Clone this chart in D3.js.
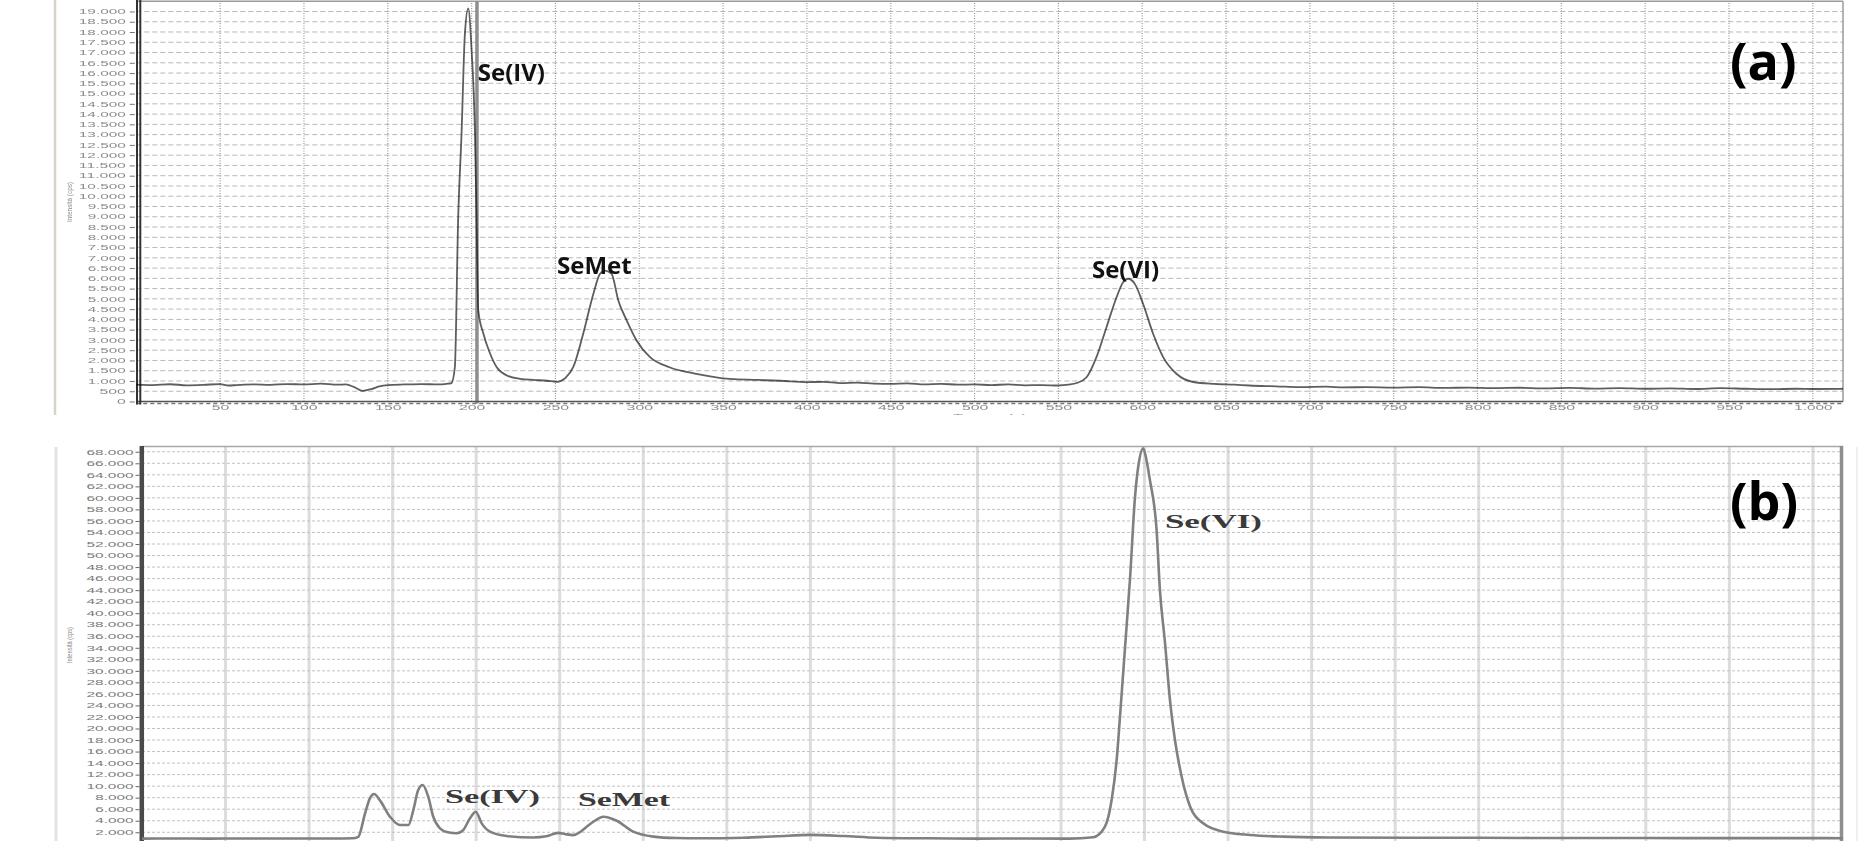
<!DOCTYPE html>
<html><head><meta charset="utf-8">
<script src="https://cdn.jsdelivr.net/npm/d3@7"></script>
<style>html,body{margin:0;padding:0;background:#fff;} svg{display:block}</style>
</head><body>
<svg id="chart" width="1871" height="841"></svg>
<script>
// ---------- DATA ----------
// Panel (a): time (s) and intensity (cps)
const timeA = [0,10,20,30,40,50,55,60,70,80,90,100,110,120,125,130,135,140,145,150,160,170,180,185,188,190,192,194,196,198,200,202,203,204,207,211,215,221,229,237,245,251,256,260.6,266.6,272.6,276.6,279.5,283.5,287.5,292.5,298.4,306.4,318,334,354,370,384,400,410,420,430,440,450,460,470,480,490,500,510,520,530,540,550,556,561,566.8,572.7,578.7,584.7,588.6,591.6,595.6,600.5,606.5,612.5,620.4,630.4,643,655,664,680,694,710,720,734,750,765,780,795,810,825,840,855,870,885,900,915,930,945,960,975,990,1000,1018];
const intensityA = [820,800,840,790,810,850,780,800,830,810,850,830,870,820,830,700,520,600,740,800,830,850,830,860,900,1660,8960,13050,17920,19150,17100,13050,8730,4430,3310,2340,1670,1270,1100,1050,1010,960,1150,1670,3310,5240,6220,6380,6220,4920,3950,2970,2160,1670,1350,1100,1050,1010,940,960,900,920,870,860,880,830,860,820,830,800,830,790,800,780,820,900,1180,2160,3620,5080,5810,5980,5730,4760,3300,2160,1350,950,860,820,780,740,700,720,690,700,680,700,660,680,650,670,640,660,630,650,620,640,610,650,620,600,620,610,620];
// Panel (b)
const timeB = [0,20,40,60,80,100,120,126,129.4,133.5,136.4,138.9,142.4,148.4,154.4,159.4,162.4,165.3,168,171.3,174.3,178.3,183,188.3,192,196.3,199.7,203.3,208.3,218.3,234.2,242,249.1,253,258.1,262,266.1,271,276.1,284.1,294,306,320,334,360,380,400,420,440,470,500,530,555,569.3,576.3,580.3,583.3,585.3,588.3,591.3,594.3,596.8,599.2,601.2,603.2,607.2,609.2,612.2,615.2,618.2,622.2,627.3,635.1,647.1,663.1,683,710,760,800,850,900,950,1000,1018];
const intensityB = [900,920,900,930,910,920,930,950,1200,5290,7890,8640,7530,4700,3260,3260,5860,9330,10200,8170,4700,2690,2000,1820,2300,4420,5570,3550,2100,1340,1100,1300,1900,1700,1500,2000,2970,4000,4700,3990,2100,1250,1000,950,1050,1300,1550,1350,1050,950,900,920,900,1130,2970,7600,14540,22050,34000,46000,60220,66500,68600,66500,63120,54440,44000,35000,24950,18010,11640,6440,3550,2100,1530,1240,1100,1050,1050,1000,1000,980,980,970];

// Axis ticks
const yTicksA = d3.range(0, 19001, 500);
const xTicks = d3.range(50, 1001, 50);
const yTicksB = d3.range(2000, 68001, 2000);

// Peak annotations (data coordinates)
const peakNamesA = ["Se(IV)", "SeMet", "Se(VI)"];
const peakTimeA = [203.7, 251, 570];
const peakValueA = [15590, 6190, 6040];
const peakNamesB = ["Se(IV)", "SeMet", "Se(VI)"];
const peakTimeB = [181.3, 260.9, 612.2];
const peakValueB = [7000, 6600, 54800];
const panelTags = ["(a)", "(b)"];

// ---------- DRAW ----------
const svg = d3.select("#chart");
const fmt = d3.formatLocale({decimal: ",", thousands: ".", grouping: [3], currency: ["", ""]}).format(",");
const labelLen = s => { let w = 0; for (const c of s) w += (c === "." ? 3 : 8.8); return w; };

const defs = svg.append("defs");
defs.append("clipPath").attr("id", "clipA").append("rect").attr("x", 0).attr("y", 0).attr("width", 1871).attr("height", 415);

// ===== Panel (a) =====
const xA = d3.scaleLinear().domain([0, 1018]).range([136.3, 1843]);
const yA = d3.scaleLinear().domain([0, 19500]).range([401.5, 1.2]);
const gA = svg.append("g").attr("clip-path", "url(#clipA)");

gA.append("line").attr("x1", 55).attr("x2", 55).attr("y1", 0).attr("y2", 415)
  .attr("stroke", "#d8d2c8").attr("stroke-width", 2.5);

gA.append("g").selectAll("line").data(yTicksA.filter(v => v > 0)).join("line")
  .attr("x1", xA(0)).attr("x2", xA(1018)).attr("y1", d => yA(d)).attr("y2", d => yA(d))
  .attr("stroke", "#b8b8b8").attr("stroke-width", 1).attr("stroke-dasharray", "5,3");
gA.append("g").selectAll("line").data(xTicks).join("line")
  .attr("x1", d => xA(d)).attr("x2", d => xA(d)).attr("y1", yA(0)).attr("y2", yA(19500))
  .attr("stroke", "#9a9a9a").attr("stroke-width", 1.2).attr("stroke-dasharray", "1,1.5");

gA.append("line").attr("x1", xA(0)).attr("x2", xA(1018)).attr("y1", yA(19500)).attr("y2", yA(19500))
  .attr("stroke", "#9a9a9a").attr("stroke-width", 1.5);
gA.append("line").attr("x1", xA(1018)).attr("x2", xA(1018)).attr("y1", yA(19500)).attr("y2", yA(0))
  .attr("stroke", "#9a9a9a").attr("stroke-width", 1.5);

// marker line
gA.append("line").attr("x1", xA(203.2)).attr("x2", xA(203.2)).attr("y1", yA(19500)).attr("y2", yA(0) + 2)
  .attr("stroke", "#8e8e8e").attr("stroke-width", 3.5);

// y axis
const axA = gA.append("g").attr("transform", `translate(${xA(0) - 1.5},0)`)
  .call(d3.axisLeft(yA).tickValues(yTicksA).tickFormat(fmt).tickSize(5).tickPadding(4));
axA.select(".domain").remove();
axA.selectAll(".tick line").attr("stroke", "#777");
axA.selectAll("text").attr("font-family", "Liberation Sans, Arial, sans-serif").attr("font-size", 7)
  .attr("fill", "#8a8a8a").attr("textLength", d => labelLen(fmt(d))).attr("lengthAdjust", "spacingAndGlyphs");

// x axis
const axXA = gA.append("g").attr("transform", `translate(0,${yA(0)})`)
  .call(d3.axisBottom(xA).tickValues(xTicks).tickFormat(fmt).tickSize(0).tickPadding(4));
axXA.select(".domain").remove();
axXA.selectAll("text").attr("font-family", "Liberation Sans, Arial, sans-serif").attr("font-size", 7)
  .attr("fill", "#8a8a8a").attr("textLength", d => labelLen(fmt(d))).attr("lengthAdjust", "spacingAndGlyphs");

gA.append("line").attr("x1", xA(0)).attr("x2", xA(1018)).attr("y1", yA(0)).attr("y2", yA(0))
  .attr("stroke", "#555").attr("stroke-width", 1.5);
gA.append("line").attr("x1", xA(0)).attr("x2", xA(1018)).attr("y1", yA(0) + 2).attr("y2", yA(0) + 2)
  .attr("stroke", "#777").attr("stroke-width", 1.5).attr("stroke-dasharray", "4,3");
gA.append("line").attr("x1", 137).attr("x2", 137).attr("y1", 0).attr("y2", yA(0) + 3)
  .attr("stroke", "#333").attr("stroke-width", 2);
gA.append("line").attr("x1", 140.3).attr("x2", 140.3).attr("y1", 0).attr("y2", yA(0) + 3)
  .attr("stroke", "#333").attr("stroke-width", 2);

gA.append("text").attr("x", 990).attr("y", 419).attr("text-anchor", "middle")
  .attr("font-family", "Liberation Sans, Arial, sans-serif").attr("font-size", 8).attr("fill", "#888")
  .attr("textLength", 74).attr("lengthAdjust", "spacingAndGlyphs").text("Tempo (s)");
gA.append("text").attr("transform", "translate(72,202) rotate(-90)").attr("text-anchor", "middle")
  .attr("font-family", "Liberation Sans, Arial, sans-serif").attr("font-size", 7).attr("fill", "#888")
  .attr("textLength", 40).attr("lengthAdjust", "spacingAndGlyphs").text("Intensità (cps)");

const lineA = d3.line().x((d, i) => xA(timeA[i])).y(d => yA(d)).curve(d3.curveMonotoneX);
gA.append("path").datum(intensityA).attr("d", lineA).attr("fill", "none")
  .attr("stroke", "#5e5e5e").attr("stroke-width", 1.8).style("mix-blend-mode", "multiply");

gA.append("g").selectAll("text").data(peakNamesA).join("text")
  .attr("x", (d, i) => xA(peakTimeA[i])).attr("y", (d, i) => yA(peakValueA[i]))
  .attr("font-family", "Open Sans, sans-serif").attr("font-weight", 700).attr("font-size", 24)
  .attr("fill", "#111").text(d => d);
gA.append("text").attr("x", 1730).attr("y", 80).attr("font-family", "Open Sans, sans-serif")
  .attr("font-weight", 700).attr("font-size", 52).attr("fill", "#000").text(panelTags[0]);

// ===== Panel (b) =====
const xB = d3.scaleLinear().domain([0, 1018]).range([142, 1843]);
const yB = d3.scaleLinear().domain([0, 69000]).range([843.8, 446]);
const gB = svg.append("g");

gB.append("line").attr("x1", 56).attr("x2", 56).attr("y1", 447).attr("y2", 841)
  .attr("stroke", "#e4e4e4").attr("stroke-width", 3);
gB.append("line").attr("x1", 1857).attr("x2", 1857).attr("y1", 447).attr("y2", 841)
  .attr("stroke", "#f0f0f0").attr("stroke-width", 2);

gB.append("g").selectAll("line").data(xTicks).join("line")
  .attr("x1", d => xB(d)).attr("x2", d => xB(d)).attr("y1", yB(0)).attr("y2", yB(69000))
  .attr("stroke", "#dcdcdc").attr("stroke-width", 3);
gB.append("g").selectAll("line").data(yTicksB).join("line")
  .attr("x1", xB(0)).attr("x2", xB(1018)).attr("y1", d => yB(d)).attr("y2", d => yB(d))
  .attr("stroke", "#c2c2c2").attr("stroke-width", 1).attr("stroke-dasharray", "3,2");

gB.append("line").attr("x1", xB(0)).attr("x2", xB(1018)).attr("y1", yB(69000) + 0.5).attr("y2", yB(69000) + 0.5)
  .attr("stroke", "#a8a8a8").attr("stroke-width", 1.5);
gB.append("line").attr("x1", 1841.5).attr("x2", 1841.5).attr("y1", yB(69000)).attr("y2", 841)
  .attr("stroke", "#8f8f8f").attr("stroke-width", 3.5);

const axB = gB.append("g").attr("transform", "translate(139.5,0)")
  .call(d3.axisLeft(yB).tickValues(yTicksB).tickFormat(fmt).tickSize(4).tickPadding(2));
axB.select(".domain").remove();
axB.selectAll(".tick line").attr("stroke", "#666");
axB.selectAll("text").attr("font-family", "Liberation Sans, Arial, sans-serif").attr("font-size", 7)
  .attr("fill", "#7a7a7a").attr("textLength", d => labelLen(fmt(d))).attr("lengthAdjust", "spacingAndGlyphs");
gB.append("line").attr("x1", 141.8).attr("x2", 141.8).attr("y1", yB(69000)).attr("y2", 841)
  .attr("stroke", "#4a4a4a").attr("stroke-width", 4.5);

gB.append("text").attr("transform", "translate(72,645) rotate(-90)").attr("text-anchor", "middle")
  .attr("font-family", "Liberation Sans, Arial, sans-serif").attr("font-size", 7).attr("fill", "#888")
  .attr("textLength", 36).attr("lengthAdjust", "spacingAndGlyphs").text("Intensità (cps)");

const lineB = d3.line().x((d, i) => xB(timeB[i])).y(d => yB(d)).curve(d3.curveMonotoneX);
gB.append("path").datum(intensityB).attr("d", lineB).attr("fill", "none")
  .attr("stroke", "#808080").attr("stroke-width", 2.6);

const lenB = [95, 92, 97];
gB.append("g").selectAll("text").data(peakNamesB).join("text")
  .attr("x", (d, i) => xB(peakTimeB[i])).attr("y", (d, i) => yB(peakValueB[i]))
  .attr("font-family", "Liberation Serif, Times New Roman, serif").attr("font-weight", 700).attr("font-size", 18)
  .attr("fill", "#3a3a3a").attr("textLength", (d, i) => lenB[i]).attr("lengthAdjust", "spacingAndGlyphs")
  .text(d => d);
gB.append("text").attr("x", 1730).attr("y", 520).attr("font-family", "Open Sans, sans-serif")
  .attr("font-weight", 700).attr("font-size", 52).attr("fill", "#000").text(panelTags[1]);
</script>
</body></html>
